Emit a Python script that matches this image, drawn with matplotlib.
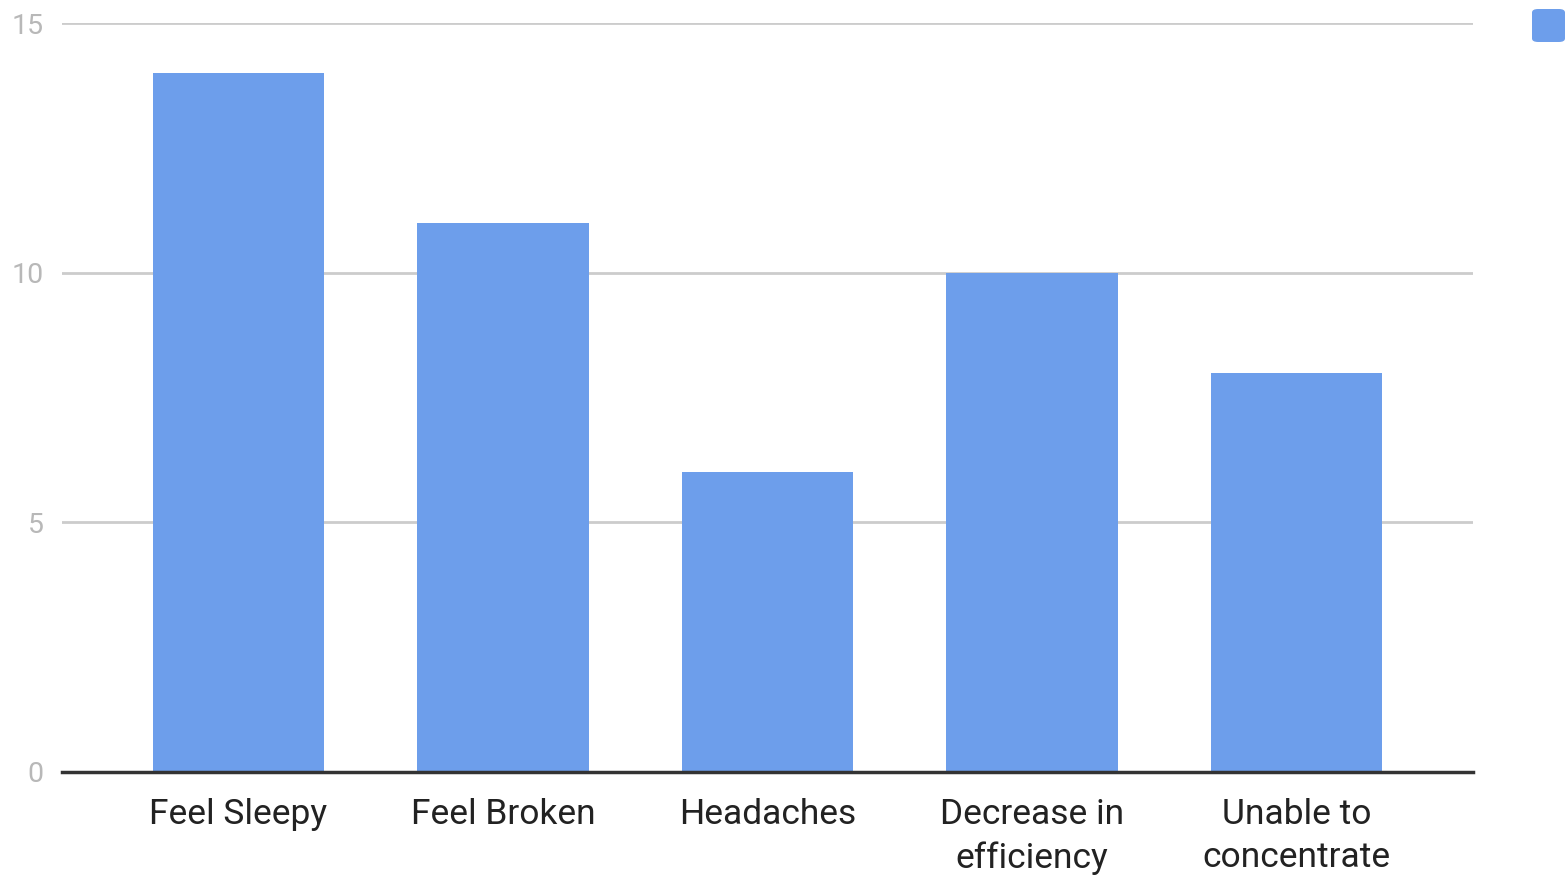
import matplotlib.pyplot as plt
from matplotlib.patches import FancyBboxPatch

categories = ['Feel Sleepy', 'Feel Broken', 'Headaches', 'Decrease in\nefficiency', 'Unable to\nconcentrate']
values = [14, 11, 6, 10, 8]
yticks = [0, 5, 10, 15]

bar_color = '#6d9eeb'

plt.rcParams['font.family'] = ['Roboto', 'DejaVu Sans']

fig = plt.figure(figsize=(15.66, 8.76), dpi=100)
ax = fig.add_axes([62 / 1566, 1 - 772 / 876, (1473 - 62) / 1566, (772 - 23) / 876])

x = list(range(len(categories)))
ax.bar(x, values, width=0.647, color=bar_color, zorder=3)

ax.set_xlim(-0.667, len(categories) - 1 + 0.667)
ax.set_ylim(0, 15)
ax.set_yticks(yticks)
ax.set_yticklabels([str(t) for t in yticks], color='#b8b8b8', fontsize=20.5)
ax.set_xticks(x)
ax.set_xticklabels(categories, fontsize=25.5, color='#222222', linespacing=1.37, va='top')
ax.tick_params(axis='both', length=0)
ax.tick_params(axis='y', pad=13)
ax.tick_params(axis='x', pad=19)

ax.grid(axis='y', color='#cccccc', linewidth=2, zorder=0)
for side in ['top', 'right', 'left']:
    ax.spines[side].set_visible(False)
ax.spines['bottom'].set_color('#333333')
ax.spines['bottom'].set_linewidth(2.5)
ax.spines['bottom'].set_zorder(4)

# legend swatch with no label
fig.patches.append(FancyBboxPatch((1532 / 1566, 1 - 42 / 876), 33 / 1566, 33 / 876,
                                  boxstyle='round,pad=0,rounding_size=0.004',
                                  transform=fig.transFigure, facecolor=bar_color,
                                  edgecolor='none'))

fig.savefig('out.png', dpi=100)
